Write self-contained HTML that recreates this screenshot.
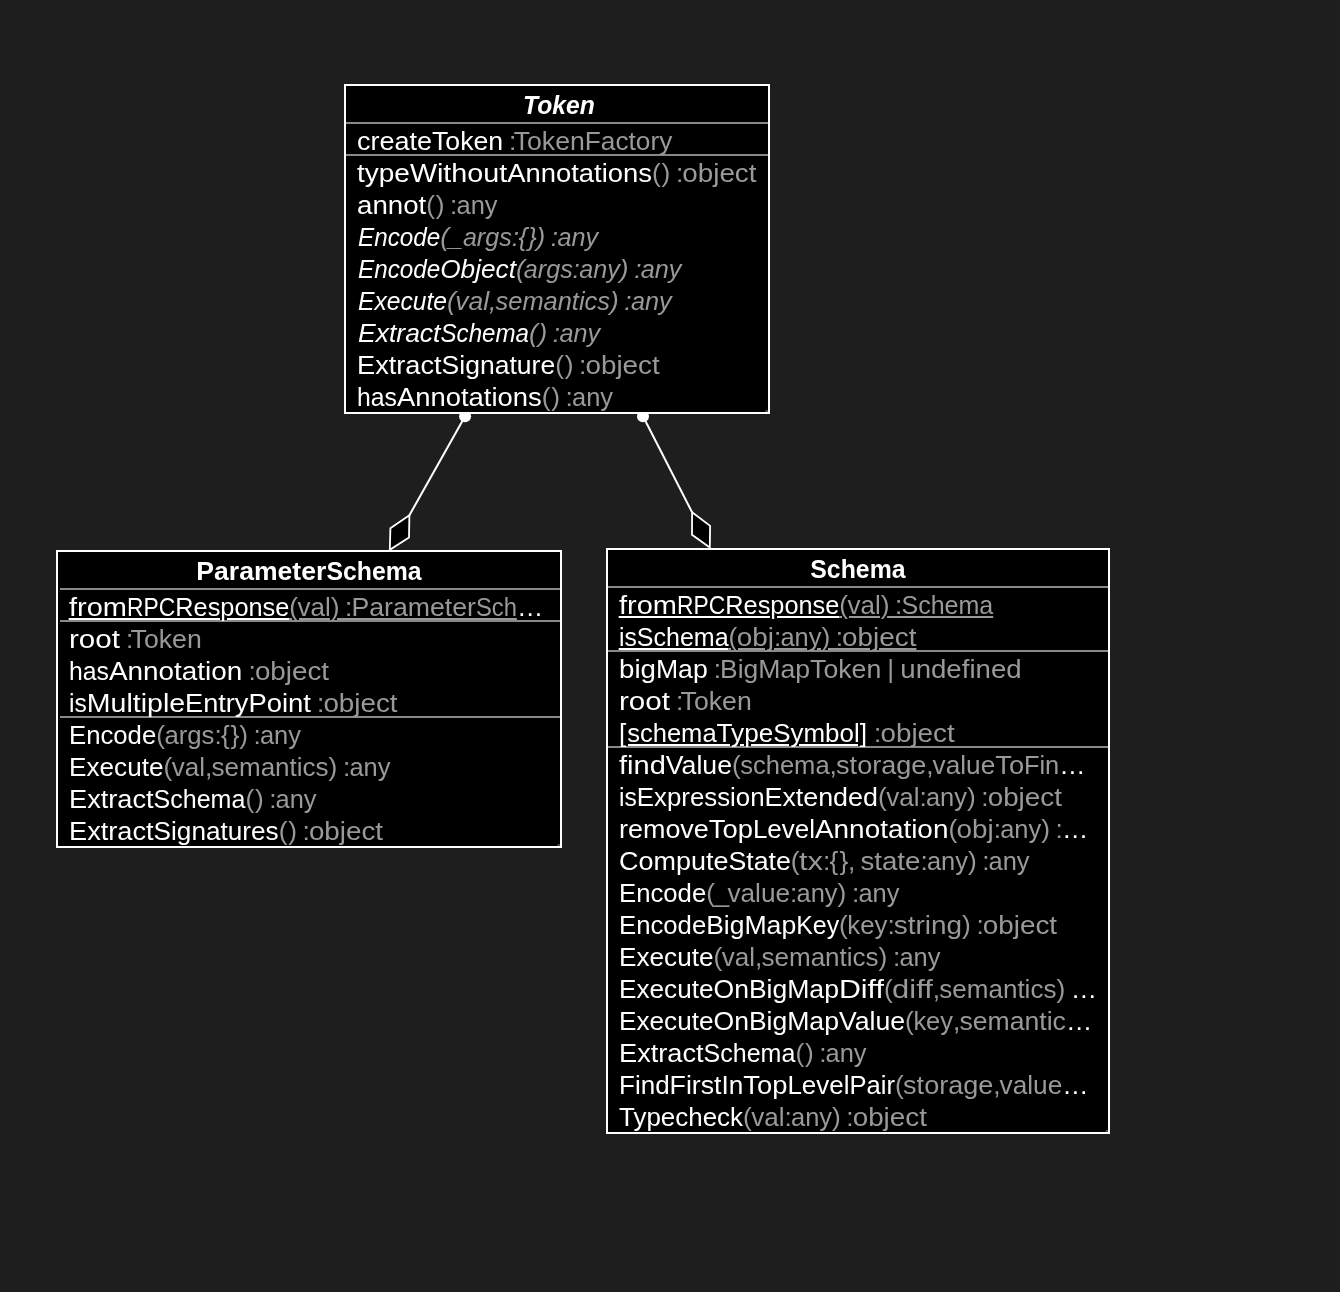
<!DOCTYPE html>
<html lang="en"><head><meta charset="utf-8"><title>Class diagram</title>
<style>
html,body{margin:0;padding:0;background:#1e1e1e;}
body{width:1340px;height:1292px;overflow:hidden;}
svg{display:block;will-change:transform;}
text{font-family:"Liberation Sans", sans-serif;font-size:26.3px;fill:#fff;white-space:pre;}
.g{fill:#999999;}
.i{font-style:italic;}
.b{font-weight:bold;}
.box{fill:#000;stroke:#fff;stroke-width:2.0;}
.sep{stroke:#888888;stroke-width:2;}
.ln{stroke:#fff;stroke-width:2;fill:none;}
.dia{fill:#000;stroke:#fff;stroke-width:1.8;stroke-linejoin:miter;}
</style></head>
<body>
<svg width="1340" height="1292" viewBox="0 0 1340 1292" role="img" aria-label="UML class diagram: Token, ParameterSchema, Schema">
<rect width="1340" height="1292" fill="#1e1e1e"/>
<line class="ln" x1="465.1" y1="416.2" x2="409.4" y2="515.2"/>
<circle cx="465.1" cy="416.2" r="6" fill="#fff"/>
<polygon class="dia" points="409.4,515.2 390.4,528.2 389.8,549.8 409.0,537.6"/>
<line class="ln" x1="643.0" y1="416.2" x2="692.1" y2="512.3"/>
<circle cx="643.0" cy="416.2" r="6" fill="#fff"/>
<polygon class="dia" points="692.1,512.3 710.1,525.9 709.8,547.6 692.0,534.7"/>
<g>
<rect class="box" x="345.00" y="85.00" width="424.00" height="328.00"/>
<line class="sep" x1="346.00" y1="123.00" x2="768.00" y2="123.00"/>
<line class="sep" x1="346.00" y1="155.00" x2="768.00" y2="155.00"/>
<path d="M765.8 412.0L766.4 410.0L767.1 411.8L767.8 410.2" fill="none" stroke="#777" stroke-width=".7"/>
<text class="b i" y="113.8"><tspan x="523.1" textLength="71.8" lengthAdjust="spacingAndGlyphs">Token</tspan></text>
<text y="149.5"><tspan x="357" textLength="75" lengthAdjust="spacingAndGlyphs">create</tspan><tspan x="432" textLength="71.1" lengthAdjust="spacingAndGlyphs">Token</tspan> <tspan class="g" x="509.1">:</tspan><tspan class="g" x="513.7" textLength="71.1" lengthAdjust="spacingAndGlyphs">Token</tspan><tspan class="g" x="584.8" textLength="87.5" lengthAdjust="spacingAndGlyphs">Factory</tspan></text>
<text y="181.5"><tspan x="357" textLength="52.9" lengthAdjust="spacingAndGlyphs">type</tspan><tspan x="409.9" textLength="97.3" lengthAdjust="spacingAndGlyphs">Without</tspan><tspan x="507.2" textLength="144.8" lengthAdjust="spacingAndGlyphs">Annotations</tspan><tspan class="g" x="652.1 661.6">()</tspan> <tspan class="g" x="675.9">:</tspan><tspan class="g" x="682.3" textLength="74.2" lengthAdjust="spacingAndGlyphs">object</tspan></text>
<text y="213.5"><tspan x="357" textLength="69.3" lengthAdjust="spacingAndGlyphs">annot</tspan><tspan class="g" x="426.3 435.7">()</tspan> <tspan class="g" x="450">:</tspan><tspan class="g" x="456.5" textLength="41" lengthAdjust="spacingAndGlyphs">any</tspan></text>
<text class="i" y="245.5"><tspan x="358" textLength="82.2" lengthAdjust="spacingAndGlyphs">Encode</tspan><tspan class="g" x="440.2 448.5">(_</tspan><tspan class="g" x="462.9" textLength="48.9" lengthAdjust="spacingAndGlyphs">args</tspan><tspan class="g" x="511.8 518.4 528 536.5">:{})</tspan> <tspan class="g" x="550.8">:</tspan><tspan class="g" x="557.5" textLength="40.7" lengthAdjust="spacingAndGlyphs">any</tspan></text>
<text class="i" y="277.5"><tspan x="358" textLength="82.2" lengthAdjust="spacingAndGlyphs">Encode</tspan><tspan x="440.2" textLength="75.8" lengthAdjust="spacingAndGlyphs">Object</tspan><tspan class="g" x="516">(</tspan><tspan class="g" x="523.8" textLength="48.9" lengthAdjust="spacingAndGlyphs">args</tspan><tspan class="g" x="572.6">:</tspan><tspan class="g" x="579.2" textLength="40.6" lengthAdjust="spacingAndGlyphs">any</tspan><tspan class="g" x="619.8">)</tspan> <tspan class="g" x="634.2">:</tspan><tspan class="g" x="640.8" textLength="40.7" lengthAdjust="spacingAndGlyphs">any</tspan></text>
<text class="i" y="309.5"><tspan x="358" textLength="89" lengthAdjust="spacingAndGlyphs">Execute</tspan><tspan class="g" x="447">(</tspan><tspan class="g" x="455.3" textLength="33.8" lengthAdjust="spacingAndGlyphs">val</tspan><tspan class="g" x="489.1">,</tspan><tspan class="g" x="495.6" textLength="114.4" lengthAdjust="spacingAndGlyphs">semantics</tspan><tspan class="g" x="610">)</tspan> <tspan class="g" x="624.3">:</tspan><tspan class="g" x="630.9" textLength="40.7" lengthAdjust="spacingAndGlyphs">any</tspan></text>
<text class="i" y="341.5"><tspan x="358" textLength="82.5" lengthAdjust="spacingAndGlyphs">Extract</tspan><tspan x="440.5" textLength="88.5" lengthAdjust="spacingAndGlyphs">Schema</tspan><tspan class="g" x="529.1 538.5">()</tspan> <tspan class="g" x="552.8">:</tspan><tspan class="g" x="559.4" textLength="40.7" lengthAdjust="spacingAndGlyphs">any</tspan></text>
<text y="373.5"><tspan x="357" textLength="84.6" lengthAdjust="spacingAndGlyphs">Extract</tspan><tspan x="441.6" textLength="113.6" lengthAdjust="spacingAndGlyphs">Signature</tspan><tspan class="g" x="555.3 564.7">()</tspan> <tspan class="g" x="579">:</tspan><tspan class="g" x="585.5" textLength="74.2" lengthAdjust="spacingAndGlyphs">object</tspan></text>
<text y="405.5"><tspan x="357" textLength="39.9" lengthAdjust="spacingAndGlyphs">has</tspan><tspan x="396.9" textLength="144.8" lengthAdjust="spacingAndGlyphs">Annotations</tspan><tspan class="g" x="541.8 551.2">()</tspan> <tspan class="g" x="565.5">:</tspan><tspan class="g" x="572" textLength="41" lengthAdjust="spacingAndGlyphs">any</tspan></text>
</g>
<g>
<rect class="box" x="57.00" y="551.00" width="504.00" height="296.00"/>
<line class="sep" x1="60.00" y1="589.00" x2="560.00" y2="589.00"/>
<line class="sep" x1="60.00" y1="621.00" x2="560.00" y2="621.00"/>
<line class="sep" x1="60.00" y1="717.00" x2="560.00" y2="717.00"/>
<path d="M557.8 846.0L558.4 844.0L559.1 845.8L559.8 844.2" fill="none" stroke="#777" stroke-width=".7"/>
<rect x="68.7" y="618" width="151.3" height="2" fill="#fff"/><rect x="227.0" y="618" width="62.2" height="2" fill="#fff"/><rect x="289.2" y="618" width="2.8" height="2" fill="#999999"/><rect x="299.0" y="618" width="31.0" height="2" fill="#999999"/><rect x="337.0" y="618" width="179.9" height="2" fill="#999999"/>
<text class="b" y="580"><tspan x="196.3" textLength="130" lengthAdjust="spacingAndGlyphs">Parameter</tspan><tspan x="326.4" textLength="95.3" lengthAdjust="spacingAndGlyphs">Schema</tspan></text>
<text y="615.7"><tspan x="69" textLength="58" lengthAdjust="spacingAndGlyphs">from</tspan><tspan x="127" textLength="48.2" lengthAdjust="spacingAndGlyphs">RPC</tspan><tspan x="175.3" textLength="114" lengthAdjust="spacingAndGlyphs">Response</tspan><tspan class="g" x="289.2">(</tspan><tspan class="g" x="297.5" textLength="33.2" lengthAdjust="spacingAndGlyphs">val</tspan><tspan class="g" x="330.7">)</tspan> <tspan class="g" x="345">:</tspan><tspan class="g" x="351.5" textLength="124.4" lengthAdjust="spacingAndGlyphs">Parameter</tspan><tspan class="g" x="475.9" textLength="41" lengthAdjust="spacingAndGlyphs">Sch</tspan><tspan x="516.9">…</tspan></text>
<text y="647.7"><tspan x="69" textLength="51" lengthAdjust="spacingAndGlyphs">root</tspan> <tspan class="g" x="126.1">:</tspan><tspan class="g" x="130.6" textLength="71.1" lengthAdjust="spacingAndGlyphs">Token</tspan></text>
<text y="679.7"><tspan x="69" textLength="39.9" lengthAdjust="spacingAndGlyphs">has</tspan><tspan x="108.9" textLength="133.4" lengthAdjust="spacingAndGlyphs">Annotation</tspan> <tspan class="g" x="248.4">:</tspan><tspan class="g" x="254.9" textLength="74.2" lengthAdjust="spacingAndGlyphs">object</tspan></text>
<text y="711.7"><tspan x="69" textLength="17.8" lengthAdjust="spacingAndGlyphs">is</tspan><tspan x="86.8" textLength="98.3" lengthAdjust="spacingAndGlyphs">Multiple</tspan><tspan x="185.1" textLength="63.3" lengthAdjust="spacingAndGlyphs">Entry</tspan><tspan x="248.4" textLength="62.6" lengthAdjust="spacingAndGlyphs">Point</tspan> <tspan class="g" x="317">:</tspan><tspan class="g" x="323.4" textLength="74.2" lengthAdjust="spacingAndGlyphs">object</tspan></text>
<text y="743.7"><tspan x="69" textLength="87.2" lengthAdjust="spacingAndGlyphs">Encode</tspan><tspan class="g" x="156.2">(</tspan><tspan class="g" x="164.4" textLength="50" lengthAdjust="spacingAndGlyphs">args</tspan><tspan class="g" x="214.4 220.9 230.6 239.2">:{})</tspan> <tspan class="g" x="253.5">:</tspan><tspan class="g" x="259.9" textLength="41" lengthAdjust="spacingAndGlyphs">any</tspan></text>
<text y="775.7"><tspan x="69" textLength="94.5" lengthAdjust="spacingAndGlyphs">Execute</tspan><tspan class="g" x="163.5">(</tspan><tspan class="g" x="171.8" textLength="33.3" lengthAdjust="spacingAndGlyphs">val</tspan><tspan class="g" x="205.1">,</tspan><tspan class="g" x="211.5" textLength="117.1" lengthAdjust="spacingAndGlyphs">semantics</tspan><tspan class="g" x="328.6">)</tspan> <tspan class="g" x="343">:</tspan><tspan class="g" x="349.4" textLength="41" lengthAdjust="spacingAndGlyphs">any</tspan></text>
<text y="807.7"><tspan x="69" textLength="84.6" lengthAdjust="spacingAndGlyphs">Extract</tspan><tspan x="153.6" textLength="91.8" lengthAdjust="spacingAndGlyphs">Schema</tspan><tspan class="g" x="245.4 254.9">()</tspan> <tspan class="g" x="269.2">:</tspan><tspan class="g" x="275.6" textLength="41" lengthAdjust="spacingAndGlyphs">any</tspan></text>
<text y="839.7"><tspan x="69" textLength="84.6" lengthAdjust="spacingAndGlyphs">Extract</tspan><tspan x="153.6" textLength="125" lengthAdjust="spacingAndGlyphs">Signatures</tspan><tspan class="g" x="278.7 288.2">()</tspan> <tspan class="g" x="302.5">:</tspan><tspan class="g" x="308.9" textLength="74.2" lengthAdjust="spacingAndGlyphs">object</tspan></text>
</g>
<g>
<rect class="box" x="607.00" y="549.00" width="502.00" height="584.00"/>
<line class="sep" x1="608.00" y1="587.00" x2="1108.00" y2="587.00"/>
<line class="sep" x1="608.00" y1="651.00" x2="1108.00" y2="651.00"/>
<line class="sep" x1="608.00" y1="747.00" x2="1108.00" y2="747.00"/>
<path d="M1105.8 1132.0L1106.4 1130.0L1107.1 1131.8L1107.8 1130.2" fill="none" stroke="#777" stroke-width=".7"/>
<rect x="618.7" y="616" width="151.3" height="2" fill="#fff"/><rect x="777.0" y="616" width="62.2" height="2" fill="#fff"/><rect x="839.2" y="616" width="2.8" height="2" fill="#999999"/><rect x="849.0" y="616" width="31.0" height="2" fill="#999999"/><rect x="887.0" y="616" width="106.2" height="2" fill="#999999"/>
<rect x="618.7" y="648" width="109.8" height="2" fill="#fff"/><rect x="728.5" y="648" width="2.5" height="2" fill="#999999"/><rect x="738.0" y="648" width="27.0" height="2" fill="#999999"/><rect x="774.0" y="648" width="33.0" height="2" fill="#999999"/><rect x="817.0" y="648" width="4.0" height="2" fill="#999999"/><rect x="828.0" y="648" width="42.0" height="2" fill="#999999"/><rect x="879.0" y="648" width="37.4" height="2" fill="#999999"/>
<rect x="628.0" y="744" width="102.0" height="2" fill="#fff"/><rect x="740.0" y="744" width="4.0" height="2" fill="#fff"/><rect x="751.0" y="744" width="38.0" height="2" fill="#fff"/><rect x="799.0" y="744" width="59.0" height="2" fill="#fff"/>
<text class="b" y="577.8"><tspan x="810.3" textLength="95.3" lengthAdjust="spacingAndGlyphs">Schema</tspan></text>
<text y="613.5"><tspan x="619" textLength="58" lengthAdjust="spacingAndGlyphs">from</tspan><tspan x="677" textLength="48.2" lengthAdjust="spacingAndGlyphs">RPC</tspan><tspan x="725.3" textLength="114" lengthAdjust="spacingAndGlyphs">Response</tspan><tspan class="g" x="839.2">(</tspan><tspan class="g" x="847.5" textLength="33.2" lengthAdjust="spacingAndGlyphs">val</tspan><tspan class="g" x="880.7">)</tspan> <tspan class="g" x="895">:</tspan><tspan class="g" x="901.5" textLength="91.8" lengthAdjust="spacingAndGlyphs">Schema</tspan></text>
<text y="645.5"><tspan x="619" textLength="17.8" lengthAdjust="spacingAndGlyphs">is</tspan><tspan x="636.8" textLength="91.8" lengthAdjust="spacingAndGlyphs">Schema</tspan><tspan class="g" x="728.5">(</tspan><tspan class="g" x="736.8" textLength="37.2" lengthAdjust="spacingAndGlyphs">obj</tspan><tspan class="g" x="773.9">:</tspan><tspan class="g" x="780.4" textLength="41" lengthAdjust="spacingAndGlyphs">any</tspan><tspan class="g" x="821.4">)</tspan> <tspan class="g" x="835.7">:</tspan><tspan class="g" x="842.1" textLength="74.3" lengthAdjust="spacingAndGlyphs">object</tspan></text>
<text y="677.5"><tspan x="619" textLength="36.9" lengthAdjust="spacingAndGlyphs">big</tspan><tspan x="655.9" textLength="51.8" lengthAdjust="spacingAndGlyphs">Map</tspan> <tspan class="g" x="713.7">:</tspan><tspan class="g" x="720.1" textLength="38.2" lengthAdjust="spacingAndGlyphs">Big</tspan><tspan class="g" x="758.3" textLength="51.8" lengthAdjust="spacingAndGlyphs">Map</tspan><tspan class="g" x="810.1" textLength="71.1" lengthAdjust="spacingAndGlyphs">Token</tspan> <tspan class="g" x="887.2">|</tspan> <tspan class="g" x="900.3" textLength="121.3" lengthAdjust="spacingAndGlyphs">undefined</tspan></text>
<text y="709.5"><tspan x="619" textLength="51" lengthAdjust="spacingAndGlyphs">root</tspan> <tspan class="g" x="676.1">:</tspan><tspan class="g" x="680.6" textLength="71.1" lengthAdjust="spacingAndGlyphs">Token</tspan></text>
<text y="741.5"><tspan x="619">[</tspan><tspan x="627.2" textLength="89.4" lengthAdjust="spacingAndGlyphs">schema</tspan><tspan x="716.6" textLength="56.7" lengthAdjust="spacingAndGlyphs">Type</tspan><tspan x="773.3" textLength="86.4" lengthAdjust="spacingAndGlyphs">Symbol</tspan><tspan x="859.7">]</tspan> <tspan class="g" x="874">:</tspan><tspan class="g" x="880.5" textLength="74.2" lengthAdjust="spacingAndGlyphs">object</tspan></text>
<text y="773.5"><tspan x="619" textLength="46.8" lengthAdjust="spacingAndGlyphs">find</tspan><tspan x="665.8" textLength="66.2" lengthAdjust="spacingAndGlyphs">Value</tspan><tspan class="g" x="732">(</tspan><tspan class="g" x="740.2" textLength="89.4" lengthAdjust="spacingAndGlyphs">schema</tspan><tspan class="g" x="829.6">,</tspan><tspan class="g" x="836.1" textLength="90.2" lengthAdjust="spacingAndGlyphs">storage</tspan><tspan class="g" x="926.2">,</tspan><tspan class="g" x="932.6" textLength="62.7" lengthAdjust="spacingAndGlyphs">value</tspan><tspan class="g" x="995.3" textLength="28.8" lengthAdjust="spacingAndGlyphs">To</tspan><tspan class="g" x="1024" textLength="35.2" lengthAdjust="spacingAndGlyphs">Fin</tspan><tspan x="1059.3">…</tspan></text>
<text y="805.5"><tspan x="619" textLength="17.8" lengthAdjust="spacingAndGlyphs">is</tspan><tspan x="636.8" textLength="127.8" lengthAdjust="spacingAndGlyphs">Expression</tspan><tspan x="764.5" textLength="113.4" lengthAdjust="spacingAndGlyphs">Extended</tspan><tspan class="g" x="877.9">(</tspan><tspan class="g" x="886.2" textLength="33.3" lengthAdjust="spacingAndGlyphs">val</tspan><tspan class="g" x="919.5">:</tspan><tspan class="g" x="925.9" textLength="41" lengthAdjust="spacingAndGlyphs">any</tspan><tspan class="g" x="966.9">)</tspan> <tspan class="g" x="981.2">:</tspan><tspan class="g" x="987.7" textLength="74.2" lengthAdjust="spacingAndGlyphs">object</tspan></text>
<text y="837.5"><tspan x="619" textLength="89.8" lengthAdjust="spacingAndGlyphs">remove</tspan><tspan x="708.8" textLength="44.1" lengthAdjust="spacingAndGlyphs">Top</tspan><tspan x="752.9" textLength="62.1" lengthAdjust="spacingAndGlyphs">Level</tspan><tspan x="815" textLength="133.4" lengthAdjust="spacingAndGlyphs">Annotation</tspan><tspan class="g" x="948.4">(</tspan><tspan class="g" x="956.6" textLength="37.2" lengthAdjust="spacingAndGlyphs">obj</tspan><tspan class="g" x="993.8">:</tspan><tspan class="g" x="1000.2" textLength="41" lengthAdjust="spacingAndGlyphs">any</tspan><tspan class="g" x="1041.2">)</tspan> <tspan class="g" x="1055.5">:</tspan><tspan x="1062">…</tspan></text>
<text y="869.5"><tspan x="619" textLength="109.4" lengthAdjust="spacingAndGlyphs">Compute</tspan><tspan x="728.4" textLength="62.4" lengthAdjust="spacingAndGlyphs">State</tspan><tspan class="g" x="790.7">(</tspan><tspan class="g" x="799" textLength="24.1" lengthAdjust="spacingAndGlyphs">tx</tspan><tspan class="g" x="823.1 829.6 839.4 847.9">:{},</tspan> <tspan class="g" x="860.4" textLength="60" lengthAdjust="spacingAndGlyphs">state</tspan><tspan class="g" x="920.4">:</tspan><tspan class="g" x="926.9" textLength="41" lengthAdjust="spacingAndGlyphs">any</tspan><tspan class="g" x="967.9">)</tspan> <tspan class="g" x="982.2">:</tspan><tspan class="g" x="988.6" textLength="41" lengthAdjust="spacingAndGlyphs">any</tspan></text>
<text y="901.5"><tspan x="619" textLength="87.2" lengthAdjust="spacingAndGlyphs">Encode</tspan><tspan class="g" x="706.2 714.5">(_</tspan><tspan class="g" x="727.4" textLength="62.7" lengthAdjust="spacingAndGlyphs">value</tspan><tspan class="g" x="790.1">:</tspan><tspan class="g" x="796.6" textLength="41" lengthAdjust="spacingAndGlyphs">any</tspan><tspan class="g" x="837.6">)</tspan> <tspan class="g" x="851.9">:</tspan><tspan class="g" x="858.4" textLength="41" lengthAdjust="spacingAndGlyphs">any</tspan></text>
<text y="933.5"><tspan x="619" textLength="87.2" lengthAdjust="spacingAndGlyphs">Encode</tspan><tspan x="706.2" textLength="38.2" lengthAdjust="spacingAndGlyphs">Big</tspan><tspan x="744.4" textLength="51.8" lengthAdjust="spacingAndGlyphs">Map</tspan><tspan x="796.2" textLength="42.9" lengthAdjust="spacingAndGlyphs">Key</tspan><tspan class="g" x="839">(</tspan><tspan class="g" x="847.3" textLength="40.1" lengthAdjust="spacingAndGlyphs">key</tspan><tspan class="g" x="887.4">:</tspan><tspan class="g" x="893.8" textLength="68.2" lengthAdjust="spacingAndGlyphs">string</tspan><tspan class="g" x="962.1">)</tspan> <tspan class="g" x="976.4">:</tspan><tspan class="g" x="982.8" textLength="74.3" lengthAdjust="spacingAndGlyphs">object</tspan></text>
<text y="965.5"><tspan x="619" textLength="94.5" lengthAdjust="spacingAndGlyphs">Execute</tspan><tspan class="g" x="713.5">(</tspan><tspan class="g" x="721.8" textLength="33.3" lengthAdjust="spacingAndGlyphs">val</tspan><tspan class="g" x="755.1">,</tspan><tspan class="g" x="761.5" textLength="117.1" lengthAdjust="spacingAndGlyphs">semantics</tspan><tspan class="g" x="878.6">)</tspan> <tspan class="g" x="893">:</tspan><tspan class="g" x="899.4" textLength="41" lengthAdjust="spacingAndGlyphs">any</tspan></text>
<text y="997.5"><tspan x="619" textLength="94.5" lengthAdjust="spacingAndGlyphs">Execute</tspan><tspan x="713.5" textLength="35.4" lengthAdjust="spacingAndGlyphs">On</tspan><tspan x="749" textLength="38.2" lengthAdjust="spacingAndGlyphs">Big</tspan><tspan x="787.2" textLength="51.8" lengthAdjust="spacingAndGlyphs">Map</tspan><tspan x="838.9" textLength="45" lengthAdjust="spacingAndGlyphs">Diff</tspan><tspan class="g" x="883.9">(</tspan><tspan class="g" x="892.1" textLength="40.7" lengthAdjust="spacingAndGlyphs">diff</tspan><tspan class="g" x="932.8">,</tspan><tspan class="g" x="939.3" textLength="117.1" lengthAdjust="spacingAndGlyphs">semantics</tspan><tspan class="g" x="1056.4">)</tspan> <tspan x="1070.7">…</tspan></text>
<text y="1029.5"><tspan x="619" textLength="94.5" lengthAdjust="spacingAndGlyphs">Execute</tspan><tspan x="713.5" textLength="35.4" lengthAdjust="spacingAndGlyphs">On</tspan><tspan x="749" textLength="38.2" lengthAdjust="spacingAndGlyphs">Big</tspan><tspan x="787.2" textLength="51.8" lengthAdjust="spacingAndGlyphs">Map</tspan><tspan x="838.9" textLength="66.2" lengthAdjust="spacingAndGlyphs">Value</tspan><tspan class="g" x="905.1">(</tspan><tspan class="g" x="913.4" textLength="39.6" lengthAdjust="spacingAndGlyphs">key</tspan><tspan class="g" x="953">,</tspan><tspan class="g" x="959.5" textLength="106.4" lengthAdjust="spacingAndGlyphs">semantic</tspan><tspan x="1065.9">…</tspan></text>
<text y="1061.5"><tspan x="619" textLength="84.6" lengthAdjust="spacingAndGlyphs">Extract</tspan><tspan x="703.6" textLength="91.8" lengthAdjust="spacingAndGlyphs">Schema</tspan><tspan class="g" x="795.4 804.9">()</tspan> <tspan class="g" x="819.2">:</tspan><tspan class="g" x="825.6" textLength="41" lengthAdjust="spacingAndGlyphs">any</tspan></text>
<text y="1093.5"><tspan x="619" textLength="50.6" lengthAdjust="spacingAndGlyphs">Find</tspan><tspan x="669.6" textLength="51.9" lengthAdjust="spacingAndGlyphs">First</tspan><tspan x="721.5" textLength="21.8" lengthAdjust="spacingAndGlyphs">In</tspan><tspan x="743.3" textLength="44.1" lengthAdjust="spacingAndGlyphs">Top</tspan><tspan x="787.4" textLength="62.1" lengthAdjust="spacingAndGlyphs">Level</tspan><tspan x="849.5" textLength="45.4" lengthAdjust="spacingAndGlyphs">Pair</tspan><tspan class="g" x="894.9">(</tspan><tspan class="g" x="903.1" textLength="90.2" lengthAdjust="spacingAndGlyphs">storage</tspan><tspan class="g" x="993.3">,</tspan><tspan class="g" x="999.6" textLength="62.7" lengthAdjust="spacingAndGlyphs">value</tspan><tspan x="1062.3">…</tspan></text>
<text y="1125.5"><tspan x="619" textLength="124" lengthAdjust="spacingAndGlyphs">Typecheck</tspan><tspan class="g" x="743">(</tspan><tspan class="g" x="751.2" textLength="33.3" lengthAdjust="spacingAndGlyphs">val</tspan><tspan class="g" x="784.5">:</tspan><tspan class="g" x="791" textLength="41" lengthAdjust="spacingAndGlyphs">any</tspan><tspan class="g" x="831.9">)</tspan> <tspan class="g" x="846.2">:</tspan><tspan class="g" x="852.7" textLength="74.2" lengthAdjust="spacingAndGlyphs">object</tspan></text>
</g>
</svg>
</body></html>
